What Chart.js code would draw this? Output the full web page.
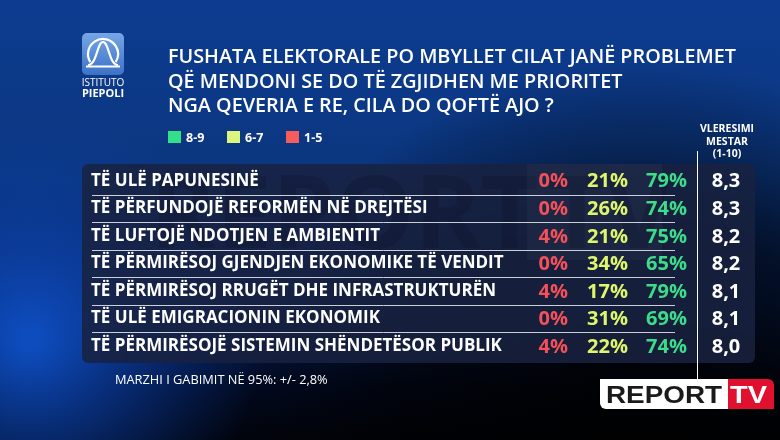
<!DOCTYPE html>
<html>
<head>
<meta charset="utf-8">
<script src="https://cdn.jsdelivr.net/npm/chart.js@4.4.1/dist/chart.umd.min.js"></script>
<style>
  html, body { margin: 0; padding: 0; background: #0b2f75; }
  #wrap { width: 780px; height: 440px; position: relative; }
</style>
</head>
<body>
<div id="wrap"><canvas id="pollChart" width="780" height="440"></canvas></div>
<script>
const titleLines = [
  "FUSHATA ELEKTORALE PO MBYLLET CILAT JANË PROBLEMET",
  "QË MENDONI SE DO TË ZGJIDHEN ME PRIORITET",
  "NGA QEVERIA E RE, CILA DO QOFTË AJO ?",
];
const rows = [
  "TË ULË PAPUNESINË",
  "TË PËRFUNDOJË REFORMËN NË DREJTËSI",
  "TË LUFTOJË NDOTJEN E AMBIENTIT",
  "TË PËRMIRËSOJ GJENDJEN EKONOMIKE TË VENDIT",
  "TË PËRMIRËSOJ RRUGËT DHE INFRASTRUKTURËN",
  "TË ULË EMIGRACIONIN EKONOMIK",
  "TË PËRMIRËSOJË SISTEMIN SHËNDETËSOR PUBLIK",
];
const low = [0, 0, 4, 0, 4, 0, 4];       // 1-5
const mid = [21, 26, 21, 34, 17, 31, 22]; // 6-7
const high = [79, 74, 75, 65, 79, 69, 74]; // 8-9
const mean = [8.3, 8.3, 8.2, 8.2, 8.1, 8.1, 8.0];
const legendItems = ["8-9", "6-7", "1-5"];
const meanHeader = ["VLERESIMI", "MESTAR", "(1-10)"];
const footnote = "MARZHI I GABIMIT NË 95%: +/- 2,8%";

const FONT = "'Open Sans', 'DejaVu Sans', sans-serif";
const colors = {
  high: "#3ddc8a",
  mid: "#def56e",
  low: "#f2505a",
  legendHigh: "#33e08a",
  legendMid: "#dcf57c",
  legendLow: "#f75c5c",
};

// background, panel, header texts
const backdrop = {
  id: "backdrop",
  beforeDraw(chart) {
    const ctx = chart.ctx;
    const w = chart.width, h = chart.height;
    ctx.save();
    let g = ctx.createLinearGradient(0, 0, 0, h);
    g.addColorStop(0, "#0d3c90");
    g.addColorStop(0.4, "#0b367f");
    g.addColorStop(0.7, "#07215a");
    g.addColorStop(0.88, "#020a22");
    g.addColorStop(1, "#01040c");
    ctx.fillStyle = g;
    ctx.fillRect(0, 0, w, h);

    g = ctx.createRadialGradient(640, 480, 20, 640, 480, 420);
    g.addColorStop(0, "rgba(0,0,0,0.95)");
    g.addColorStop(0.6, "rgba(0,0,0,0.6)");
    g.addColorStop(1, "rgba(0,0,0,0)");
    ctx.fillStyle = g;
    ctx.fillRect(0, 0, w, h);

    g = ctx.createRadialGradient(30, 340, 10, 30, 340, 230);
    g.addColorStop(0, "rgba(15,85,210,0.85)");
    g.addColorStop(0.5, "rgba(12,70,185,0.45)");
    g.addColorStop(1, "rgba(10,60,160,0)");
    ctx.fillStyle = g;
    ctx.fillRect(0, 0, w, h);

    // panel
    ctx.beginPath();
    ctx.roundRect(82, 164, 673, 199, 6);
    ctx.fillStyle = "rgba(24,34,64,0.86)";
    ctx.fill();

    // faint watermark inside panel
    ctx.save();
    ctx.clip();
    ctx.fillStyle = "rgba(8,12,30,0.2)";
    ctx.font = "bold 100px " + FONT;
    ctx.textBaseline = "alphabetic";
    ctx.fillText("REPORT", 150, 248);
    ctx.fillStyle = "rgba(255,255,255,0.03)";
    ctx.fillRect(527, 164, 135, 96);
    ctx.fillStyle = "rgba(8,12,30,0.18)";
    ctx.fillText("TV", 548, 248);
    ctx.restore();

    // Istituto Piepoli logo
    g = ctx.createLinearGradient(0, 33, 0, 75);
    g.addColorStop(0, "#76a6e6");
    g.addColorStop(1, "#3c72c6");
    ctx.beginPath();
    ctx.roundRect(82, 33, 42, 42, 5);
    ctx.fillStyle = g;
    ctx.fill();
    ctx.strokeStyle = "#ffffff";
    ctx.lineWidth = 2.2;
    ctx.beginPath();
    ctx.arc(103, 54, 15, Math.PI * 0.82, Math.PI * 0.18, false);
    ctx.stroke();
    ctx.beginPath();
    ctx.moveTo(88, 65);
    ctx.bezierCurveTo(97, 65, 97, 42, 103, 42);
    ctx.bezierCurveTo(109, 42, 109, 65, 118, 65);
    ctx.stroke();
    ctx.beginPath();
    ctx.moveTo(86, 66.5);
    ctx.lineTo(120, 66.5);
    ctx.stroke();
    ctx.fillStyle = "#ffffff";
    ctx.textAlign = "center";
    ctx.textBaseline = "alphabetic";
    ctx.font = "10px " + FONT;
    ctx.fillText("ISTITUTO", 103, 86);
    ctx.font = "bold 11px " + FONT;
    ctx.fillText("PIEPOLI", 103, 97);

    // title
    ctx.textAlign = "left";
    ctx.font = "600 19.8px " + FONT;
    titleLines.forEach((t, i) => ctx.fillText(t, 168, 63 + i * 24.5));

    // legend
    const legendColors = [colors.legendHigh, colors.legendMid, colors.legendLow];
    const legendX = [168, 227, 286];
    ctx.font = "bold 12.5px " + FONT;
    legendItems.forEach((t, i) => {
      ctx.fillStyle = legendColors[i];
      ctx.fillRect(legendX[i], 131, 13, 12);
      ctx.fillStyle = "#ffffff";
      ctx.fillText(t, legendX[i] + 18, 142);
    });

    // mean column header
    ctx.textAlign = "center";
    ctx.font = "bold 10.5px " + FONT;
    meanHeader.forEach((t, i) => ctx.fillText(t, 727, 132 + i * 12.5));

    // footnote
    ctx.textAlign = "left";
    ctx.font = "12.8px " + FONT;
    ctx.fillText(footnote, 115, 384);
    ctx.restore();
  },
};

// table cells drawn at the row positions of the y scale
const cells = {
  id: "cells",
  afterDatasetsDraw(chart) {
    const ctx = chart.ctx;
    const y = chart.scales.y;
    ctx.save();

    // row separators
    ctx.strokeStyle = "rgba(235,238,245,0.85)";
    ctx.lineWidth = 1;
    for (let i = 1; i < rows.length; i++) {
      const yy = Math.round((y.getPixelForValue(i - 1) + y.getPixelForValue(i)) / 2) + 0.5;
      ctx.beginPath();
      ctx.moveTo(92, yy);
      ctx.lineTo(675, yy);
      ctx.stroke();
    }

    // vertical divider before the mean column
    ctx.strokeStyle = "#ffffff";
    ctx.beginPath();
    ctx.moveTo(697.5, 151);
    ctx.lineTo(697.5, 379);
    ctx.stroke();

    const colRight = [568, 628, 687];
    ctx.font = "bold 20px " + FONT;
    ctx.textBaseline = "middle";
    chart.data.datasets.forEach((ds, di) => {
      const meta = chart.getDatasetMeta(di);
      meta.data.forEach((el, j) => {
        const v = ds.data[j];
        ctx.fillStyle = ds.textColor;
        if (ds.kind === "mean") {
          ctx.textAlign = "center";
          ctx.fillText(v.toFixed(1).replace(".", ","), 726, el.y + 1);
        } else {
          ctx.textAlign = "right";
          ctx.fillText(v + "%", colRight[di], el.y + 1);
        }
      });
    });

    // REPORT TV logo
    ctx.beginPath();
    ctx.roundRect(600, 379, 128, 30, [0, 0, 0, 6]);
    ctx.fillStyle = "#ffffff";
    ctx.fill();
    ctx.beginPath();
    ctx.roundRect(728, 379, 46, 30, [0, 6, 0, 0]);
    ctx.fillStyle = "#e0112f";
    ctx.fill();
    ctx.textBaseline = "alphabetic";
    ctx.textAlign = "left";
    ctx.font = "bold 24px 'Liberation Sans', Arial, sans-serif";
    const rw = ctx.measureText("REPORT").width;
    ctx.save();
    ctx.translate(606, 403);
    ctx.scale(116 / rw, 1);
    ctx.fillStyle = "#1a1a1a";
    ctx.fillText("REPORT", 0, 0);
    ctx.restore();
    const tw = ctx.measureText("TV").width;
    ctx.save();
    ctx.translate(730, 403);
    ctx.scale(37 / tw, 1);
    ctx.fillStyle = "#ffffff";
    ctx.fillText("TV", 0, 0);
    ctx.restore();

    ctx.restore();
  },
};

new Chart(document.getElementById("pollChart"), {
  type: "bar",
  data: {
    labels: rows,
    datasets: [
      { label: "1-5", data: low, kind: "pct", textColor: colors.low },
      { label: "6-7", data: mid, kind: "pct", textColor: colors.mid },
      { label: "8-9", data: high, kind: "pct", textColor: colors.high },
      { label: "Vleresimi mestar", data: mean, kind: "mean", textColor: "#ffffff" },
    ].map((d) => ({ ...d, backgroundColor: "rgba(0,0,0,0)", grouped: false })),
  },
  options: {
    indexAxis: "y",
    responsive: false,
    animation: false,
    layout: { padding: { left: 91, top: 167, bottom: 80, right: 105 } },
    plugins: {
      legend: { display: false },
      tooltip: { enabled: false },
    },
    scales: {
      x: { display: false, min: 0, max: 100 },
      y: {
        grid: { display: false, drawTicks: false },
        border: { display: false },
        ticks: {
          mirror: true,
          crossAlign: "near",
          padding: 0,
          color: "#ffffff",
          font: { family: FONT, size: 17, weight: "bold" },
        },
      },
    },
  },
  plugins: [backdrop, cells],
});
</script>
</body>
</html>
